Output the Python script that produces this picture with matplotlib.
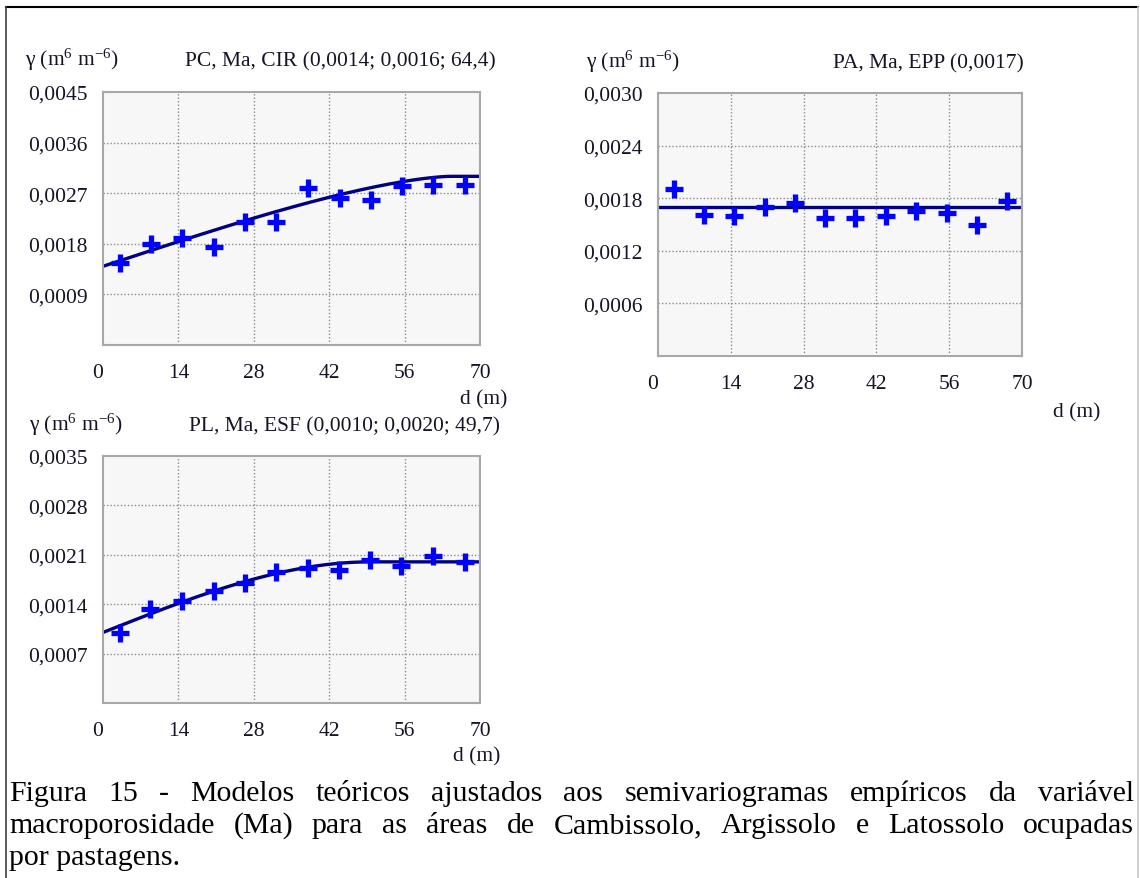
import numpy as np
import matplotlib
matplotlib.use('Agg')
import matplotlib.pyplot as plt
from matplotlib.lines import Line2D

plt.rcParams['font.family'] = ['Liberation Serif', 'DejaVu Serif']
plt.rcParams['mathtext.fontset'] = 'custom'
plt.rcParams['mathtext.rm'] = 'Liberation Serif'
plt.rcParams['mathtext.it'] = 'Liberation Serif:italic'

W, H = 1140, 879
TXT = '#141424'

# empirical semivariograms (lag in m, gamma in m6 m-6)
lag_pc = [3.1, 9.0, 14.6, 20.6, 26.3, 32.1, 38.1, 44.0, 49.7, 55.6, 61.3, 67.2]
gam_pc = [0.00146, 0.00179, 0.00191, 0.00175, 0.00218, 0.00219, 0.00280,
          0.00261, 0.00258, 0.00283, 0.00285, 0.00285]

lag_pa = [3.1, 8.9, 14.7, 20.6, 26.4, 32.2, 37.9, 43.9, 49.7, 55.6, 61.3, 67.2]
gam_pa = [0.00191, 0.00161, 0.00160, 0.00170, 0.00175, 0.00157, 0.00157,
          0.00160, 0.00165, 0.00163, 0.00149, 0.00177]

lag_pl = [3.1, 8.8, 14.6, 20.6, 26.3, 32.2, 38.1, 43.9, 49.6, 55.4, 61.3, 67.2]
gam_pl = [0.00099, 0.00133, 0.00145, 0.00158, 0.00170, 0.00185, 0.00191,
          0.00188, 0.00203, 0.00194, 0.00209, 0.00200]

# fitted models
pc_c0, pc_c1, pc_a = 0.0014, 0.0016, 64.4     # circular
pa_c0 = 0.0017                                # pure nugget
pl_c0, pl_sill, pl_a = 0.0010, 0.0020, 49.7   # spherical

x_ticks = [0, 14, 28, 42, 56, 70]
y_ticks_pc = [0.0009, 0.0018, 0.0027, 0.0036, 0.0045]
y_ticks_pa = [0.0006, 0.0012, 0.0018, 0.0024, 0.0030]
y_ticks_pl = [0.0007, 0.0014, 0.0021, 0.0028, 0.0035]


def circular(h, c0, c1, a):
    r = np.clip(h / a, 0, 1)
    return c0 + c1 * (1 - 2 / np.pi * np.arccos(r) + 2 * r / np.pi * np.sqrt(1 - r ** 2))


def spherical(h, c0, sill, a):
    r = np.clip(h / a, 0, 1)
    return c0 + (sill - c0) * (1.5 * r - 0.5 * r ** 3)


def fmt(v):
    return ('%.4f' % v).replace('.', ',')


def px(x, y):
    return x / W, 1 - y / H


def make_axes(fig, l, t, r, b, yticks):
    ax = fig.add_axes([l / W, 1 - b / H, (r - l) / W, (b - t) / H])
    ax.set_facecolor('#f7f7f7')
    for s in ax.spines.values():
        s.set_color('#a8a8a8')
        s.set_linewidth(1.5)
    ax.set_xlim(0, 70)
    ax.set_ylim(0, yticks[-1])
    ax.set_xticks(x_ticks)
    ax.set_xticklabels([str(v) for v in x_ticks])
    ax.set_yticks(yticks)
    ax.set_yticklabels([fmt(v) for v in yticks])
    ax.tick_params(length=0, labelsize=15.5, colors=TXT)
    ax.tick_params(axis='x', pad=13)
    ax.tick_params(axis='y', pad=11)
    # the "0" label sits a little left of the axis corner
    ax.get_xticklabels()[0].set_horizontalalignment('right')
    for v in x_ticks[1:-1]:
        ax.axvline(v, color='#8c8c8c', lw=1, ls=(0, (1, 1.5)), zorder=1)
    for v in yticks[:-1]:
        ax.axhline(v, color='#8c8c8c', lw=1, ls=(0, (1, 1.5)), zorder=1)
    return ax


def points(ax, lag, gam):
    ax.plot(lag, gam, ls='none', marker='+', ms=13.5, mew=3.8,
            color='#0000ff', zorder=3, clip_on=False)


fig = plt.figure(figsize=(W / 100, H / 100), dpi=100)

# outer frame
fig.add_artist(Line2D([6 / W, 1138 / W], [1 - 8 / H, 1 - 8 / H], color='black', lw=1.5))
fig.add_artist(Line2D([6 / W, 6 / W], [1 - 8 / H, 0], color='#404040', lw=1.2))
fig.add_artist(Line2D([1138 / W, 1138 / W], [1 - 8 / H, 0], color='#c8c8c8', lw=1.2))

h = np.linspace(0, 70, 300)

# PC, circular
ax1 = make_axes(fig, 103, 93, 480, 346, y_ticks_pc)
ax1.plot(h, circular(h, pc_c0, pc_c1, pc_a), color='#000080', lw=2.4, zorder=2)
points(ax1, lag_pc, gam_pc)

# PA, pure nugget
ax2 = make_axes(fig, 658, 94, 1022, 357, y_ticks_pa)
ax2.plot(h, np.full_like(h, pa_c0), color='#000080', lw=2.4, zorder=2)
points(ax2, lag_pa, gam_pa)

# PL, spherical
ax3 = make_axes(fig, 103, 457, 480, 704, y_ticks_pl)
ax3.plot(h, spherical(h, pl_c0, pl_sill, pl_a), color='#000080', lw=2.4, zorder=2)
points(ax3, lag_pl, gam_pl)

ylab = 'γ (m$^{6}$ m$^{-6}$)'
kw = dict(fontsize=15.5, color=TXT, va='center')
fig.text(*px(25, 60), ylab, ha='left', **kw)
fig.text(*px(496, 62), 'PC, Ma, CIR (0,0014; 0,0016; 64,4)', ha='right', **kw)
fig.text(*px(507, 400), 'd (m)', ha='right', **kw)

fig.text(*px(586, 62), ylab, ha='left', **kw)
fig.text(*px(1024, 64), 'PA, Ma, EPP (0,0017)', ha='right', **kw)
fig.text(*px(1100, 413), 'd (m)', ha='right', **kw)

fig.text(*px(29, 425), ylab, ha='left', **kw)
fig.text(*px(500, 427), 'PL, Ma, ESF (0,0010; 0,0020; 49,7)', ha='right', **kw)
fig.text(*px(500, 757), 'd (m)', ha='right', **kw)

# caption, justified
caption = [
    'Figura 15 - Modelos teóricos ajustados aos semivariogramas empíricos da variável',
    'macroporosidade (Ma) para as áreas de Cambissolo, Argissolo e Latossolo ocupadas',
    'por pastagens.',
]
cap_y = [801, 833, 865]
cap_size = 21.5
x0, x1 = 9, 1134
renderer = fig.canvas.get_renderer()
for i, line in enumerate(caption):
    words = line.split(' ')
    if i == len(caption) - 1:
        fig.text(*px(x0, cap_y[i]), line, fontsize=cap_size, color='black', va='baseline')
        continue
    arts = [fig.text(0, 1 - cap_y[i] / H, w, fontsize=cap_size, color='black', va='baseline')
            for w in words]
    widths = [a.get_window_extent(renderer).width for a in arts]
    gap = (x1 - x0 - sum(widths)) / (len(words) - 1)
    x = x0
    for a, w in zip(arts, widths):
        a.set_x(x / W)
        x += w + gap

fig.savefig('out.png', dpi=100)
